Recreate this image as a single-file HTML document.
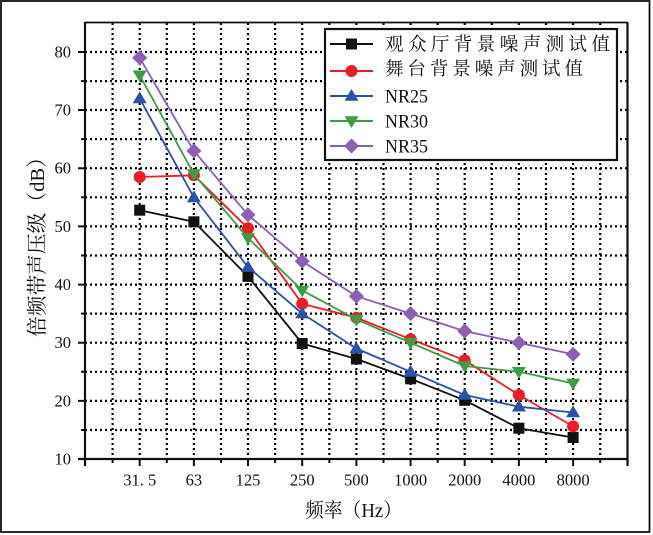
<!DOCTYPE html>
<html><head><meta charset="utf-8"><style>
html,body{margin:0;padding:0;background:#fff;}
svg{display:block;}
.t{font-family:"Liberation Serif","Noto Serif CJK SC",serif;fill:#111;}
.c{font-family:"Liberation Serif","Noto Serif CJK SC","Noto Sans CJK SC",serif;fill:#111;}
</style></head><body>
<svg width="653" height="535" viewBox="0 0 653 535" xmlns="http://www.w3.org/2000/svg">
<defs>
<marker id="sq" markerUnits="userSpaceOnUse" markerWidth="14" markerHeight="14" refX="7" refY="7" overflow="visible"><rect x="1.5" y="1.5" width="11" height="11" fill="#111"/></marker>
<marker id="ci" markerUnits="userSpaceOnUse" markerWidth="14" markerHeight="14" refX="7" refY="7" overflow="visible"><circle cx="7" cy="7" r="6" fill="#ee1c25"/></marker>
<marker id="tu" markerUnits="userSpaceOnUse" markerWidth="14" markerHeight="14" refX="7" refY="7" overflow="visible"><polygon points="0,11.8 14,11.8 7,0" fill="#2a52a8"/></marker>
<marker id="td" markerUnits="userSpaceOnUse" markerWidth="14" markerHeight="14" refX="7" refY="7" overflow="visible"><polygon points="0,2.2 14,2.2 7,14" fill="#3f9b45"/></marker>
<marker id="di" markerUnits="userSpaceOnUse" markerWidth="14" markerHeight="14" refX="7" refY="7" overflow="visible"><polygon points="7,-0.5 14.5,7 7,14.5 -0.5,7" fill="#8c5fb2"/></marker>
</defs>
<rect x="0" y="0" width="653" height="535" fill="#fff"/>
<!-- outer frame -->
<rect x="1" y="1" width="648.5" height="531" fill="none" stroke="#111" stroke-width="1.8"/>

<!-- grid -->
<g stroke="#000" stroke-width="2.2" stroke-dasharray="2 3" fill="none">
<path d="M112.6 23V459M139.7 23V459M166.8 23V459M193.9 23V459M221 23V459M248 23V459M275.1 23V459M302.2 23V459M329.3 23V459M356.4 23V459M383.5 23V459M410.6 23V459M437.7 23V459M464.7 23V459M491.8 23V459M518.9 23V459M546 23V459M573.1 23V459M600.2 23V459"/>
<path d="M85 52H627M85 81.1H627M85 110H627M85 139.1H627M85 168.2H627M85 197.3H627M85 226.4H627M85 255.5H627M85 284.6H627M85 313.6H627M85 342.7H627M85 371.8H627M85 400.9H627M85 430H627"/>
</g>

<!-- axes -->
<g stroke="#111" fill="none">
<path d="M85 22.5H627.5" stroke-width="1.8"/>
<path d="M627.5 22V466" stroke-width="2.2"/>
<path d="M85 22V466" stroke-width="2.2"/>
<path d="M78 459H628" stroke-width="2.2"/>
<path d="M78 52H85M78 110H85M78 168.2H85M78 226.4H85M78 284.6H85M78 342.7H85M78 400.9H85M81 81.1H85M81 139.1H85M81 197.3H85M81 255.5H85M81 313.6H85M81 371.8H85M81 430H85" stroke-width="2"/>
<path d="M139.7 459V466M193.9 459V466M248 459V466M302.2 459V466M356.4 459V466M410.6 459V466M464.7 459V466M518.9 459V466M573.1 459V466M112.6 459V463M166.8 459V463M221 459V463M275.1 459V463M329.3 459V463M383.5 459V463M437.7 459V463M491.8 459V463M546 459V463M600.2 459V463" stroke-width="2"/>
</g>

<!-- y tick labels -->
<g class="t" font-size="16.5" text-anchor="end">
<text x="71" y="57.5">80</text>
<text x="71" y="115.5">70</text>
<text x="71" y="173.7">60</text>
<text x="71" y="231.9">50</text>
<text x="71" y="290.1">40</text>
<text x="71" y="348.2">30</text>
<text x="71" y="406.4">20</text>
<text x="71" y="464.5">10</text>
</g>
<!-- x tick labels -->
<g class="t" font-size="16.5" text-anchor="middle">
<text x="139.7" y="485.5">31. 5</text>
<text x="193.9" y="485.5">63</text>
<text x="248" y="485.5">125</text>
<text x="302.2" y="485.5">250</text>
<text x="356.4" y="485.5">500</text>
<text x="410.6" y="485.5">1000</text>
<text x="464.7" y="485.5">2000</text>
<text x="518.9" y="485.5">4000</text>
<text x="573.1" y="485.5">8000</text>
</g>

<!-- axis titles -->
<text class="c" font-size="20" x="305" y="517" textLength="97" lengthAdjust="spacingAndGlyphs">频率（Hz）</text>
<text class="c" font-size="20.5" transform="translate(44,337) rotate(-90)" x="0" y="0" textLength="190" lengthAdjust="spacingAndGlyphs">倍频带声压级（dB）</text>

<!-- series -->
<g fill="none" stroke-width="1.8" stroke-linejoin="round">
<polyline stroke="#111" marker-start="url(#sq)" marker-mid="url(#sq)" marker-end="url(#sq)" points="139.7,210.2 193.9,221.8 248,276.4 302.2,343.5 356.4,359 410.6,378.8 464.7,400.3 518.9,428.2 573.1,437.5"/>
<polyline stroke="#ee1c25" marker-start="url(#ci)" marker-mid="url(#ci)" marker-end="url(#ci)" points="139.7,177 193.9,175.3 248,228.2 302.2,303.8 356.4,317.7 410.6,339.2 464.7,360.2 518.9,395 573.1,426.4"/>
<polyline stroke="#2a52a8" marker-start="url(#tu)" marker-mid="url(#tu)" marker-end="url(#tu)" points="139.7,98.5 193.9,197.4 248,267.1 302.2,313.6 356.4,348.5 410.6,371.8 464.7,395 518.9,406.7 573.1,412.5"/>
<polyline stroke="#3f9b45" marker-start="url(#td)" marker-mid="url(#td)" marker-end="url(#td)" points="139.7,75.3 193.9,174.1 248,238.1 302.2,290.4 356.4,319.5 410.6,342.7 464.7,366 518.9,371.8 573.1,383.4"/>
<polyline stroke="#8c5fb2" marker-start="url(#di)" marker-mid="url(#di)" marker-end="url(#di)" points="139.7,57.8 193.9,150.9 248,214.8 302.2,261.3 356.4,296.2 410.6,313.6 464.7,331.1 518.9,342.7 573.1,354.3"/>
</g>

<!-- legend -->
<rect x="325" y="29" width="292" height="131" fill="#fff" stroke="#111" stroke-width="2.2"/>
<g fill="none" stroke-width="2">
<polyline stroke="#111" marker-mid="url(#sq)" points="330,44 351.5,44 373,44"/>
<polyline stroke="#ee1c25" marker-mid="url(#ci)" points="330,71 351.5,71 373,71"/>
<polyline stroke="#2a52a8" marker-mid="url(#tu)" points="330,96 351.5,96 373,96"/>
<polyline stroke="#3f9b45" marker-mid="url(#td)" points="330,121 351.5,121 373,121"/>
<polyline stroke="#8c5fb2" marker-mid="url(#di)" points="330,146 351.5,146 373,146"/>
</g>
<text class="c" font-size="18.5" x="385" y="50.5" textLength="225" lengthAdjust="spacing">观众厅背景噪声测试值</text>
<text class="c" font-size="18.5" x="385" y="75" textLength="198" lengthAdjust="spacing">舞台背景噪声测试值</text>
<text class="t" font-size="19" x="385" y="102.5" textLength="43" lengthAdjust="spacingAndGlyphs">NR25</text>
<text class="t" font-size="19" x="385" y="127.5" textLength="43" lengthAdjust="spacingAndGlyphs">NR30</text>
<text class="t" font-size="19" x="385" y="152.5" textLength="43" lengthAdjust="spacingAndGlyphs">NR35</text>
</svg>
</body></html>
